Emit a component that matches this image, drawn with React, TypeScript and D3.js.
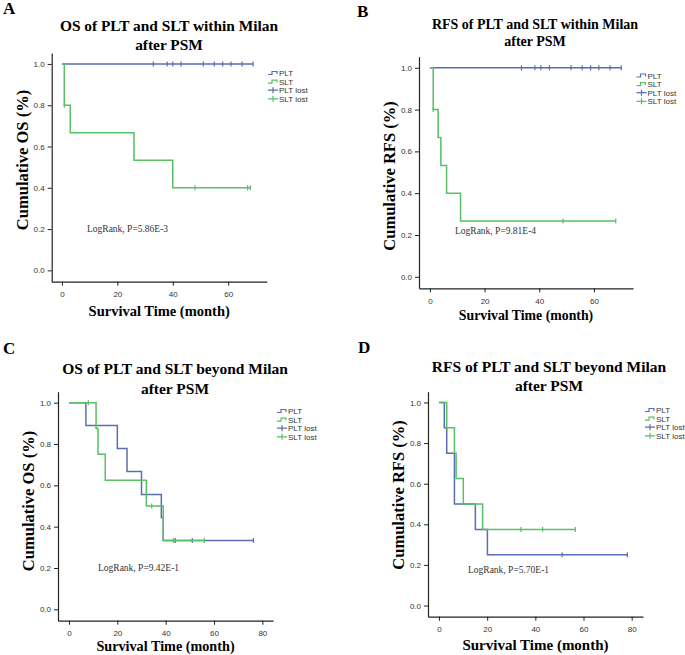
import React, { useEffect, useRef } from 'react';
import * as d3 from 'd3';

// ---- data ----
const yTicks = [0, 0.2, 0.4, 0.6, 0.8, 1.0];
const xTicksShort = [0, 20, 40, 60];
const xTicksLong = [0, 20, 40, 60, 80];
const legendLabels = ['PLT', 'SLT', 'PLT lost', 'SLT lost'];

// A: OS within Milan
const aPltTime = [0, 69];
const aPltSurv = [1, 1];
const aPltCens = [33, 38, 40, 43, 51, 55, 58, 61, 65, 69];
const aSltTime = [0, 0.84, 3, 26, 40, 68];
const aSltSurv = [1, 0.8, 0.667, 0.533, 0.4, 0.4];
const aSltCens = [0.84, 48, 67, 68];

// B: RFS within Milan
const bPltTime = [0, 70];
const bPltSurv = [1, 1];
const bPltCens = [33.5, 38.4, 40.6, 43.7, 51.6, 55.7, 58.8, 61.8, 65.9, 70];
const bSltTime = [0, 1.2, 3, 4, 6.1, 11.2, 68];
const bSltSurv = [1, 0.8, 0.667, 0.533, 0.4, 0.267, 0.267];
const bSltCens = [1.2, 48.7, 68];

// C: OS beyond Milan
const cPltTime = [0, 7, 20, 24, 30, 38.2, 39, 76.3];
const cPltSurv = [1, 0.889, 0.778, 0.667, 0.556, 0.444, 0.333, 0.333];
const cPltCens = [44, 51, 76.3];
const cSltTime = [0, 11.2, 12, 15, 32, 39, 56];
const cSltSurv = [1, 0.875, 0.75, 0.625, 0.5, 0.333, 0.333];
const cSltCens = [8, 34.2, 43.2, 56];

// D: RFS beyond Milan
const dPltTime = [0, 2.2, 3.2, 6.4, 15.1, 20.1, 78.2];
const dPltSurv = [1, 0.875, 0.75, 0.5, 0.375, 0.25, 0.25];
const dPltCens = [51.1, 78.2];
const dSltTime = [0, 3.2, 6.4, 7.1, 10.1, 18.1, 56.6];
const dSltSurv = [1, 0.875, 0.75, 0.625, 0.5, 0.375, 0.375];
const dSltCens = [34, 43, 56.6];

const BLUE = '#5a6db2';
const GREEN = '#58c065';

const panels = [
  {
    letter: 'A', lx: 3, ly: 14,
    title: ['OS of PLT and SLT within Milan', 'after PSM'], tx: 169, ty: 31, tSize: 15.4, tGap: 19,
    yLabel: 'Cumulative OS (%)', yLabelY: 160, xLabelY: 316, xLabelSize: 14.5,
    logrank: 'LogRank, P=5.86E-3', lrx: 87, lry: 232,
    box: { l: 51.7, r: 266.7, t: 53, b: 281.7 }, xDom: [-3.7, 73.9], xTicks: xTicksShort,
    legend: { x: 268, y: 73 },
    plt: [aPltTime, aPltSurv, aPltCens], slt: [aSltTime, aSltSurv, aSltCens],
  },
  {
    letter: 'B', lx: 357, ly: 17,
    title: ['RFS of PLT and SLT within Milan', 'after PSM'], tx: 535, ty: 29, tSize: 14, tGap: 17,
    yLabel: 'Cumulative RFS (%)', yLabelY: 176, xLabelY: 320, xLabelSize: 13.8,
    logrank: 'LogRank, P=9.81E-4', lrx: 455, lry: 234,
    box: { l: 419, r: 633, t: 56.7, b: 288.3 }, xDom: [-4.0, 74.3], xTicks: xTicksShort,
    legend: { x: 636.5, y: 75.5 },
    plt: [bPltTime, bPltSurv, bPltCens], slt: [bSltTime, bSltSurv, bSltCens],
  },
  {
    letter: 'C', lx: 3, ly: 354,
    title: ['OS of PLT and SLT beyond Milan', 'after PSM'], tx: 175, ty: 374, tSize: 15.5, tGap: 19.5,
    yLabel: 'Cumulative OS (%)', yLabelY: 501, xLabelY: 651, xLabelSize: 14.2,
    logrank: 'LogRank, P=9.42E-1', lrx: 98, lry: 571,
    box: { l: 58, r: 273, t: 391.7, b: 620.7 }, xDom: [-4.55, 84.4], xTicks: xTicksLong,
    legend: { x: 277, y: 411 },
    plt: [cPltTime, cPltSurv, cPltCens], slt: [cSltTime, cSltSurv, cSltCens],
  },
  {
    letter: 'D', lx: 358, ly: 353,
    title: ['RFS of PLT and SLT beyond Milan', 'after PSM'], tx: 549, ty: 372, tSize: 15.5, tGap: 19,
    yLabel: 'Cumulative RFS (%)', yLabelY: 495, xLabelY: 650, xLabelSize: 15,
    logrank: 'LogRank, P=5.70E-1', lrx: 468, lry: 573,
    box: { l: 428, r: 643, t: 391.7, b: 616.7 }, xDom: [-4.57, 84.7], xTicks: xTicksLong,
    legend: { x: 645, y: 410 },
    plt: [dPltTime, dPltSurv, dPltCens], slt: [dSltTime, dSltSurv, dSltCens],
  },
];

const SERIF = '"Liberation Serif", "Times New Roman", serif';
const SANS = '"Liberation Sans", Arial, sans-serif';

function App() {
  const ref = useRef<SVGSVGElement>(null);
  const width = 685;
  const height = 655;

  useEffect(() => {
    const svg = d3.select(ref.current);
    svg.selectAll('*').remove();
    svg.append('rect').attr('width', width).attr('height', height).attr('fill', '#fff');

    panels.forEach(p => {
      const g = svg.append('g');
      const { l, r, t, b } = p.box;
      const x = d3.scaleLinear().domain(p.xDom).range([l, r]);
      const y = d3.scaleLinear().domain([-0.055, 1.053]).range([b, t]);

      // panel letter + title
      g.append('text').attr('x', p.lx).attr('y', p.ly)
        .attr('font-family', SERIF).attr('font-weight', 'bold').attr('font-size', 17)
        .text(p.letter);
      p.title.forEach((line, i) => {
        g.append('text').attr('x', p.tx).attr('y', p.ty + i * p.tGap)
          .attr('text-anchor', 'middle')
          .attr('font-family', SERIF).attr('font-weight', 'bold').attr('font-size', p.tSize)
          .text(line);
      });

      // axes
      const xAxis = g.append('g').attr('transform', `translate(0,${b})`)
        .call(d3.axisBottom(x).tickValues(p.xTicks).tickSize(4).tickSizeOuter(0).tickFormat(d3.format('d')));
      const yAxis = g.append('g').attr('transform', `translate(${l},0)`)
        .call(d3.axisLeft(y).tickValues(yTicks).tickSize(4).tickSizeOuter(0).tickFormat(d3.format('.1f')));
      [xAxis, yAxis].forEach(ax => {
        ax.select('.domain').attr('stroke', '#222').attr('stroke-width', 1.2);
        ax.selectAll('line').attr('stroke', '#222');
        ax.selectAll('text').attr('font-family', SANS).attr('font-size', 8).attr('fill', '#333');
      });
      xAxis.selectAll('text').attr('y', 10);

      // axis titles
      g.append('text').attr('x', (l + r) / 2).attr('y', p.xLabelY)
        .attr('text-anchor', 'middle')
        .attr('font-family', SERIF).attr('font-weight', 'bold').attr('font-size', p.xLabelSize)
        .text('Survival Time (month)');
      g.append('text')
        .attr('transform', `translate(${l - 24},${p.yLabelY}) rotate(-90)`)
        .attr('text-anchor', 'middle')
        .attr('font-family', SERIF).attr('font-weight', 'bold').attr('font-size', 16.5)
        .text(p.yLabel);

      // logrank note
      g.append('text').attr('x', p.lrx).attr('y', p.lry)
        .attr('font-family', SERIF).attr('font-size', 9.5).attr('fill', '#333')
        .text(p.logrank);

      // survival curves
      const line = d3.line<[number, number]>()
        .x(d => x(d[0])).y(d => y(d[1]))
        .curve(d3.curveStepAfter);
      const groups = [
        { s: p.plt, color: BLUE },
        { s: p.slt, color: GREEN },
      ];
      groups.forEach(({ s, color }) => {
        const [times, surv, cens] = s as number[][];
        const pts = times.map((tm, i) => [tm, surv[i]] as [number, number]);
        g.append('path').attr('d', line(pts))
          .attr('fill', 'none').attr('stroke', color).attr('stroke-width', 1.5);
        const at = (tm: number) => surv[d3.bisectRight(times, tm) - 1];
        g.selectAll(null).data(cens).enter().append('line')
          .attr('x1', d => x(d)).attr('x2', d => x(d))
          .attr('y1', d => y(at(d)) - 2.5).attr('y2', d => y(at(d)) + 2.5)
          .attr('stroke', color).attr('stroke-width', 1.2);
      });

      // legend
      const lg = g.append('g').attr('transform', `translate(${p.legend.x},${p.legend.y})`);
      legendLabels.forEach((lab, i) => {
        const color = i % 2 === 0 ? BLUE : GREEN;
        const row = lg.append('g').attr('transform', `translate(0,${i * 8.6})`);
        if (i < 2) {
          row.append('path').attr('d', 'M0,1.5H4V-1.5H9V1')
            .attr('fill', 'none').attr('stroke', color).attr('stroke-width', 1.2);
        } else {
          row.append('path').attr('d', 'M0,0H10M5,-3V3')
            .attr('fill', 'none').attr('stroke', color).attr('stroke-width', 1.2);
        }
        row.append('text').attr('x', 11).attr('y', 3)
          .attr('font-family', SANS).attr('font-size', 8).attr('fill', '#333')
          .text(lab);
      });
    });
  }, []);

  return (
    <svg ref={ref} width={width} height={height}
      style={{ position: 'absolute', left: 0, top: 0, display: 'block' }} />
  );
}

export default App;
